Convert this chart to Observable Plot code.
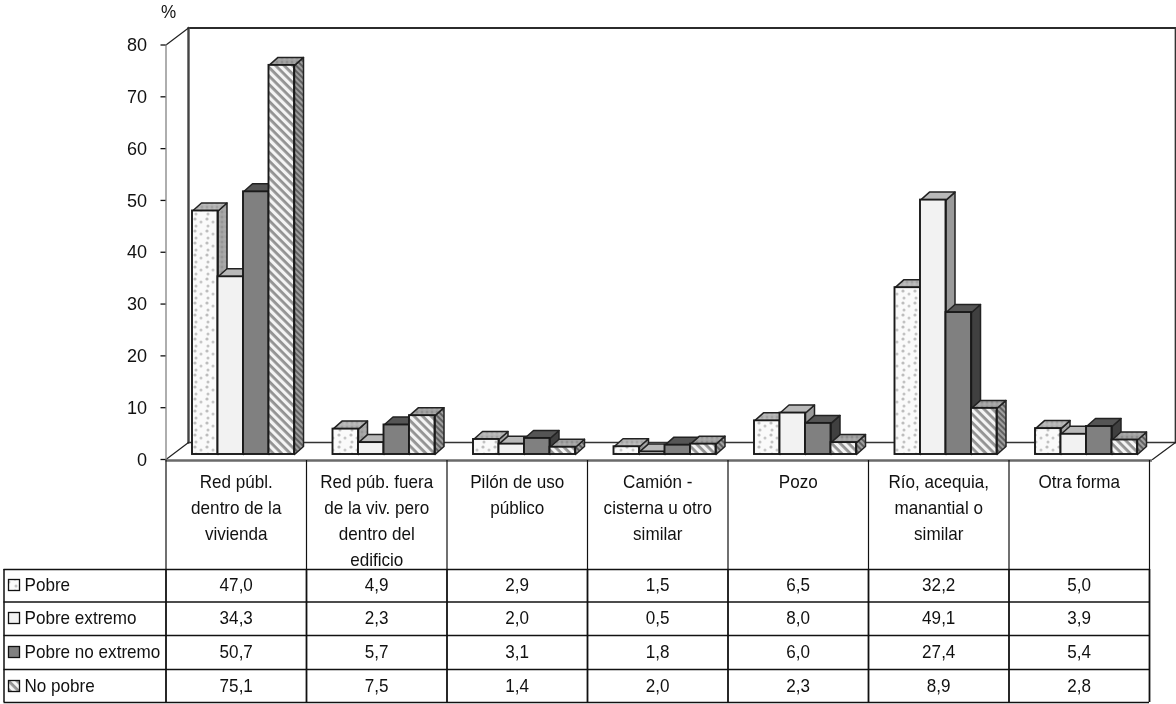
<!DOCTYPE html>
<html>
<head>
<meta charset="utf-8">
<script src="https://cdn.jsdelivr.net/npm/d3@7"></script>
<script src="https://cdn.jsdelivr.net/npm/@observablehq/plot@0.6"></script>
<style>
html,body{margin:0;padding:0;background:#fff;}
svg{display:block;filter:blur(0.35px);}
</style>
</head>
<body>
<div id="chart"></div>
<script>
const categories = [
  "Red públ.\ndentro de la\nvivienda",
  "Red púb. fuera\nde la viv. pero\ndentro del\nedificio",
  "Pilón de uso\npúblico",
  "Camión -\ncisterna u otro\nsimilar",
  "Pozo",
  "Río, acequia,\nmanantial o\nsimilar",
  "Otra forma"
];
const seriesNames = ["Pobre", "Pobre extremo", "Pobre no extremo", "No pobre"];
const pobre = [47.0, 4.9, 2.9, 1.5, 6.5, 32.2, 5.0];
const pobreExtremo = [34.3, 2.3, 2.0, 0.5, 8.0, 49.1, 3.9];
const pobreNoExtremo = [50.7, 5.7, 3.1, 1.8, 6.0, 27.4, 5.4];
const noPobre = [75.1, 7.5, 1.4, 2.0, 2.3, 8.9, 2.8];
const seriesValues = [pobre, pobreExtremo, pobreNoExtremo, noPobre];
const yTicks = [0, 10, 20, 30, 40, 50, 60, 70, 80];

// Styling
const faces = [
  {front: "url(#dots)", top: "url(#dotsTop)", side: "url(#dotsSide)", key: "url(#dots)"},
  {front: "#f2f2f2", top: "#b9b9b9", side: "#9a9a9a", key: "#f2f2f2"},
  {front: "#808080", top: "#555555", side: "#404040", key: "#808080"},
  {front: "url(#hatch)", top: "url(#dotsTopDark)", side: "url(#hatchSide)", key: "url(#hatch)"}
];
const INK = "#111111";
const FONT = "'Liberation Sans',Arial,sans-serif";
const FS = 18;
const TEXT_SQUEEZE = 0.95;

// Layout in pixels
const W = 1176, H = 704;
const L = 165.5, R = 1149, Y0 = 459, Y80 = 44.5;
const pxPerCat = (R - L) / categories.length, pxPerUnit = (Y0 - Y80) / 80;
const xAt = p => (p - L) / pxPerCat;
const yAt = p => (Y0 - p) / pxPerUnit;
const wallDX = 22.5 / pxPerCat, wallDY = 17 / pxPerUnit;     // depth of the box
const barStart = 26.5 / pxPerCat, barW = 25.5 / pxPerCat;    // bar placement in a category
const barDX = 9 / pxPerCat, barDY = 8 / pxPerUnit;           // depth of a bar
const barLift = 5 / pxPerUnit;
const rowLines = [569, 601.5, 635, 669, 702];
const rowMid = [585, 618, 652, 686];
const colLines = d3.range(categories.length + 1);
const TABLE_LEFT = 3.5;
const FLOOR_RIGHT = xAt(1152), WALL_RIGHT = xAt(1175);

const defs = () => {
  const g = document.createElementNS("http://www.w3.org/2000/svg", "defs");
  g.innerHTML = `
    <pattern id="dots" width="12" height="12" patternUnits="userSpaceOnUse">
      <rect width="12" height="12" fill="#fafafa"/>
      <circle cx="3" cy="3" r="1.6" fill="#bdbdbd"/>
      <circle cx="9" cy="6" r="1.5" fill="#c6c6c6"/>
      <circle cx="4" cy="10" r="1.5" fill="#c2c2c2"/>
    </pattern>
    <pattern id="dotsTop" width="5" height="5" patternUnits="userSpaceOnUse">
      <rect width="5" height="5" fill="#b4b4b4"/>
      <circle cx="1.5" cy="1.5" r="0.9" fill="#8e8e8e"/>
      <circle cx="4" cy="3.5" r="0.8" fill="#cccccc"/>
    </pattern>
    <pattern id="dotsTopDark" width="5" height="5" patternUnits="userSpaceOnUse">
      <rect width="5" height="5" fill="#a2a2a2"/>
      <circle cx="1.5" cy="1.5" r="0.9" fill="#787878"/>
      <circle cx="4" cy="3.5" r="0.8" fill="#bbbbbb"/>
    </pattern>
    <pattern id="dotsSide" width="5" height="5" patternUnits="userSpaceOnUse">
      <rect width="5" height="5" fill="#a5a5a5"/>
      <circle cx="1.5" cy="1.5" r="0.9" fill="#808080"/>
      <circle cx="4" cy="3.5" r="0.8" fill="#b5b5b5"/>
    </pattern>
    <pattern id="hatch" width="6" height="6" patternUnits="userSpaceOnUse" patternTransform="rotate(45)">
      <rect width="6" height="6" fill="#f4f4f4"/>
      <rect width="6" height="2.8" fill="#929292"/>
    </pattern>
    <pattern id="hatchSide" width="4" height="4" patternUnits="userSpaceOnUse" patternTransform="rotate(45)">
      <rect width="4" height="4" fill="#a0a0a0"/>
      <rect width="4" height="2" fill="#606060"/>
    </pattern>`;
  return g;
};

function barRects(s) {
  return seriesValues[s].map((v, c) => {
    const x1 = c + barStart + s * barW;
    return {x1, x2: x1 + barW, y1: barLift, y2: barLift + v};
  });
}
function poly(rects, corners) {
  const out = [];
  rects.forEach((r, i) => corners(r).forEach(([x, y]) => out.push({i, x, y})));
  return out;
}
const sideOf = r => [[r.x2, r.y1], [r.x2 + barDX, r.y1 + barDY], [r.x2 + barDX, r.y2 + barDY], [r.x2, r.y2]];
const topOf = r => [[r.x1, r.y2], [r.x1 + barDX, r.y2 + barDY], [r.x2 + barDX, r.y2 + barDY], [r.x2, r.y2]];

const closed = (pts, fill, stroke, strokeWidth) => Plot.line(pts, {
  x: "x", y: "y", z: "i", curve: "linear-closed", fill, stroke, strokeWidth, strokeLinejoin: "round"
});

const marks = [defs];
const n = categories.length;

// Box: back wall lines, side walls, floor diagonals
marks.push(Plot.line([[wallDX, wallDY], [WALL_RIGHT, wallDY]], {stroke: "#333", strokeWidth: 1.7}));
marks.push(Plot.line([[wallDX, 80 + wallDY], [WALL_RIGHT, 80 + wallDY]], {stroke: "#2b2b2b", strokeWidth: 1.8}));
marks.push(Plot.line([[WALL_RIGHT, wallDY], [WALL_RIGHT, 80 + wallDY]], {stroke: "#333", strokeWidth: 1.7}));
marks.push(Plot.line([[wallDX, wallDY], [wallDX, 80 + wallDY]], {stroke: "#444", strokeWidth: 2.4}));
marks.push(Plot.line([[0, 80], [wallDX, 80 + wallDY]], {stroke: "#222", strokeWidth: 1.2}));
marks.push(Plot.line([[0, 0], [wallDX, wallDY]], {stroke: "#222", strokeWidth: 1.2}));
marks.push(Plot.line([[FLOOR_RIGHT, 0], [WALL_RIGHT, wallDY]], {stroke: "#222", strokeWidth: 1.2}));
marks.push(Plot.ruleX([0], {y1: 0, y2: 80, stroke: "#8c8c8c", strokeWidth: 1.4}));

// Bars, series by series so that each next bar covers the side of the previous one
seriesValues.forEach((_, s) => {
  const rects = barRects(s);
  marks.push(closed(poly(rects, sideOf), faces[s].side, "#222", 1.5));
  marks.push(closed(poly(rects, topOf), faces[s].top, "#222", 1.5));
  marks.push(Plot.rect(rects, {x1: "x1", x2: "x2", y1: "y1", y2: "y2", fill: faces[s].front, stroke: "#1a1a1a", strokeWidth: 1.9}));
});

// Floor front edge
marks.push(Plot.ruleY([yAt(460)], {x1: 0, x2: FLOOR_RIGHT, stroke: "#6a6a6a", strokeWidth: 2.6}));

// Y axis
marks.push(Plot.axisY({
  ticks: yTicks, tickSize: 5, tickPadding: 14, tickFormat: d => d, label: null,
  fontSize: 19, stroke: INK, strokeWidth: 1.3, fill: INK
}));
marks.push(Plot.text(["%"], {x: xAt(168), y: yAt(12), fontSize: 18, fill: INK, textAnchor: "middle"}));

// Data table: rules
marks.push(Plot.ruleY(rowLines.map(yAt), {x1: xAt(TABLE_LEFT), x2: n, stroke: "#111", strokeWidth: 1.5}));
marks.push(Plot.ruleX([xAt(TABLE_LEFT)], {y1: yAt(rowLines[0]), y2: yAt(rowLines[rowLines.length - 1]), stroke: "#111", strokeWidth: 1.5}));
marks.push(Plot.ruleX(colLines, {y1: yAt(460), y2: yAt(rowLines[0]), stroke: "#111", strokeWidth: 1.2}));
marks.push(Plot.ruleX(colLines, {y1: yAt(rowLines[0]), y2: yAt(rowLines[rowLines.length - 1]), stroke: "#111", strokeWidth: 1.8}));

// Data table: category headers
marks.push(Plot.text(categories, {
  x: (d, i) => i + 0.5, y: yAt(469.5), text: d => d, lineAnchor: "top", lineHeight: 1.44,
  fontSize: FS, fill: INK, textAnchor: "middle"
}));

// Data table: rows
seriesNames.forEach((name, s) => {
  const y = yAt(rowMid[s]);
  marks.push(Plot.rect([0], {
    x1: xAt(8.5), x2: xAt(19.5), y1: yAt(rowMid[s] + 5.5), y2: yAt(rowMid[s] - 5.5),
    fill: faces[s].key, stroke: "#111", strokeWidth: 1.3
  }));
  marks.push(Plot.text([name], {x: xAt(24), y, textAnchor: "start", fontSize: FS, fill: INK}));
  marks.push(Plot.text(seriesValues[s], {
    x: (d, i) => i + 0.5, y, text: d => d.toFixed(1).replace(".", ","),
    textAnchor: "middle", fontSize: FS, fill: INK
  }));
});

const chart = Plot.plot({
  width: W, height: H,
  marginLeft: L, marginRight: W - R, marginTop: Y80, marginBottom: H - Y0,
  style: {fontFamily: FONT, background: "#fff", overflow: "visible"},
  x: {type: "linear", domain: [0, n], axis: null},
  y: {domain: [0, 80], axis: null},
  marks
});
// Arial-Narrow look: squeeze every text around its own anchor
chart.querySelectorAll("text").forEach(t => {
  const tr = t.getAttribute("transform") || "";
  t.setAttribute("transform", `${tr} scale(${TEXT_SQUEEZE},1)`.trim());
});
document.getElementById("chart").append(chart);
</script>
</body>
</html>
